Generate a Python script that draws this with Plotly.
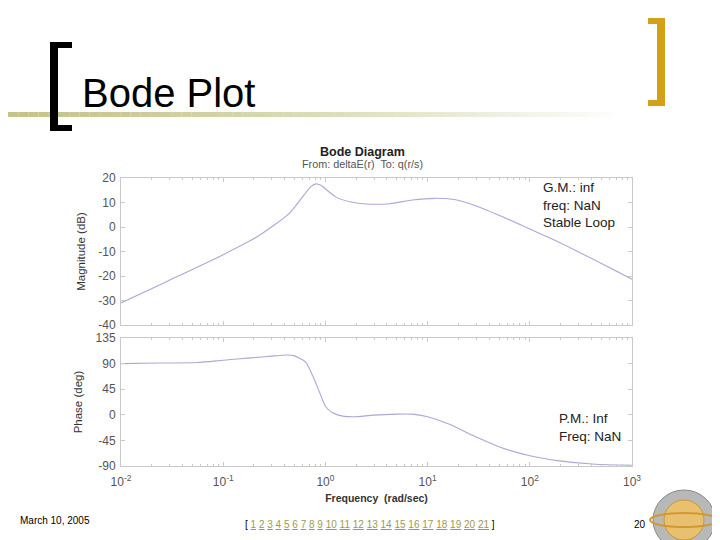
import plotly.graph_objects as go

# ---- data ----
mag_logw = [-2.0, -1.55, -1.0, -0.66, -0.35, -0.14, -0.09, -0.045, 0.10, 0.25, 0.40, 0.63, 0.85, 1.07, 1.26, 1.45, 1.71, 2.0, 2.27, 2.64, 3.0]
mag_db = [-31, -22.2, -11.3, -3.8, 5.7, 16.6, 17.6, 17.0, 12.3, 10.2, 9.4, 9.5, 11.0, 11.7, 11.2, 9.0, 4.6, -0.8, -5.9, -13.6, -21.3]

ph_logw = [-2.0, -1.63, -1.25, -1.0, -0.73, -0.50, -0.39, -0.31, -0.195, -0.12, -0.06, 0.0, 0.07, 0.17, 0.28, 0.47, 0.70, 0.85, 1.0, 1.22, 1.45, 1.71, 2.0, 2.27, 2.64, 3.0]
ph_deg = [90, 91, 92, 96, 100, 103.5, 105, 104, 93, 67, 41, 15, 3.5, -2.3, -3.5, -0.6, 1.2, 1.2, -3.5, -17, -37, -57, -72, -80.6, -87, -88.7]

mag_ticks = [20, 10, 0, -10, -20, -30, -40]
ph_ticks = [135, 90, 45, 0, -45, -90]
freq_ticks = [0.01, 0.1, 1, 10, 100, 1000]
freq_text = ["10<sup>-2</sup>", "10<sup>-1</sup>", "10<sup>0</sup>", "10<sup>1</sup>", "10<sup>2</sup>", "10<sup>3</sup>"]
gm_lines = ["G.M.: inf", "freq: NaN", "Stable Loop"]
pm_lines = ["P.M.: Inf", "Freq: NaN"]
pages = list(range(1, 22))

mag_w = [10 ** v for v in mag_logw]
ph_w = [10 ** v for v in ph_logw]
minor_vals = [m * 10 ** e for e in range(-2, 3) for m in range(2, 10)]

W, H = 720, 540
OFF = 8  # page body margin
def px(x):
    return (x - OFF) / W
def py(y):
    return 1 - (y - OFF) / H

LINE = "#a9a9d6"
FRAME = "#c9c9c9"
TICKC = "#555555"
FONT = "Liberation Sans, Arial, sans-serif"

fig = go.Figure()
fig.add_trace(go.Scatter(x=mag_w, y=mag_db, mode="lines", line=dict(color=LINE, width=1.1, shape="spline", smoothing=0.6),
                         xaxis="x", yaxis="y", showlegend=False, hoverinfo="skip"))
fig.add_trace(go.Scatter(x=ph_w, y=ph_deg, mode="lines", line=dict(color=LINE, width=1.1, shape="spline", smoothing=0.6),
                         xaxis="x2", yaxis="y2", showlegend=False, hoverinfo="skip"))

xcommon = dict(type="log", range=[-2, 3], showgrid=False, zeroline=False, showline=True, linecolor=FRAME, linewidth=1,
               mirror="ticks", ticks="inside", ticklen=4, tickcolor=FRAME, tickvals=freq_ticks, automargin=False,
               minor=dict(tickvals=minor_vals, ticks="inside", ticklen=2, tickcolor=FRAME, showgrid=False),
               domain=[px(121), px(632)])
ycommon = dict(showgrid=False, zeroline=False, showline=True, linecolor=FRAME, linewidth=1, mirror="ticks",
               ticks="inside", ticklen=4, tickcolor=FRAME, automargin=False, ticklabelstandoff=2,
               tickfont=dict(size=12, color=TICKC, family=FONT))

fig.update_layout(
    width=W, height=H, margin=dict(l=0, r=0, t=0, b=0, pad=0, autoexpand=False),
    paper_bgcolor="white", plot_bgcolor="white",
    font=dict(family=FONT),
    xaxis=dict(**xcommon, anchor="y", showticklabels=False),
    yaxis=dict(**ycommon, range=[-40, 20], tickvals=mag_ticks, ticktext=[str(v) for v in mag_ticks],
               domain=[py(325), py(178)],
               title=dict(text="Magnitude (dB)", font=dict(size=11.5, color="#333", family=FONT), standoff=10)),
    xaxis2=dict(**xcommon, anchor="y2", ticktext=freq_text, ticklabelstandoff=5,
                tickfont=dict(size=12, color=TICKC, family=FONT),
                title=dict(text="<b>Frequency  (rad/sec)</b>", font=dict(size=10.5, color="#333", family=FONT), standoff=6)),
    yaxis2=dict(**ycommon, range=[-90, 135], tickvals=ph_ticks, ticktext=[str(v) for v in ph_ticks],
                domain=[py(466), py(338)],
                title=dict(text="Phase (deg)", font=dict(size=11.5, color="#333", family=FONT), standoff=10)),
)

ann = []
def text(x, y, s, size, color="black", xanchor="left", bold=False):
    ann.append(dict(x=px(x), y=py(y), xref="paper", yref="paper", text=("<b>%s</b>" % s) if bold else s,
                    showarrow=False, xanchor=xanchor, yanchor="middle", align="left",
                    font=dict(size=size, color=color, family=FONT)))

text(80, 93, "Bode Plot", 40)
text(362, 152, "Bode Diagram", 12.5, "#222", "center", bold=True)
text(362, 164, "From: deltaE(r)  To: q(r/s)", 10.8, "#555", "center")
text(541, 205, "<br>".join(gm_lines), 13.5, "#222")
text(557, 427, "<br>".join(pm_lines), 13.5, "#222")
text(18, 520, "March 10, 2005", 10, "black")
text(632, 524, "20", 10, "black")
links = " ".join('<span style="text-decoration:underline">%d</span>' % p for p in pages)
ann.append(dict(x=px(370), y=py(524), xref="paper", yref="paper", showarrow=False, xanchor="center", yanchor="middle",
                text='[ <span style="color:#9c9a4e">%s</span> ]' % links,
                font=dict(size=10, color="black", family=FONT)))
fig.update_layout(annotations=ann)

shapes = []
# gradient rule under title
n = 60
for i in range(n):
    x0 = OFF + (620 - OFF) * i / n
    x1 = OFF + (620 - OFF) * (i + 1) / n
    op = max(0.0, 1 - (i / n) ** 1.3)
    shapes.append(dict(type="rect", xref="paper", yref="paper", x0=px(x0), x1=px(x1), y0=py(117), y1=py(112),
                       fillcolor="#c4c48a", opacity=op, line=dict(width=0), layer="below"))
# black bracket
for (x0, y0, x1, y1) in [(50, 42, 58, 131), (50, 42, 72, 48), (50, 125, 72, 131)]:
    shapes.append(dict(type="rect", xref="paper", yref="paper", x0=px(x0), x1=px(x1), y0=py(y1), y1=py(y0),
                       fillcolor="black", line=dict(width=0)))
# gold bracket
for (x0, y0, x1, y1) in [(657, 18, 665, 106), (648, 18, 665, 24), (648, 100, 665, 106)]:
    shapes.append(dict(type="rect", xref="paper", yref="paper", x0=px(x0), x1=px(x1), y0=py(y1), y1=py(y0),
                       fillcolor="#d4a017", line=dict(width=0)))
# logo
shapes.append(dict(type="circle", xref="paper", yref="paper", x0=px(653), x1=px(715), y0=py(550), y1=py(490),
                   fillcolor="#b8b8b8", line=dict(color="#8a8a8a", width=1)))
shapes.append(dict(type="circle", xref="paper", yref="paper", x0=px(664), x1=px(704), y0=py(540), y1=py(500),
                   fillcolor="#e8c070", line=dict(color="#c89830", width=1)))
shapes.append(dict(type="circle", xref="paper", yref="paper", x0=px(650), x1=px(718), y0=py(527), y1=py(513),
                   fillcolor="rgba(0,0,0,0)", line=dict(color="#d09a30", width=2)))
fig.update_layout(shapes=shapes)

fig.write_html("out.html")
